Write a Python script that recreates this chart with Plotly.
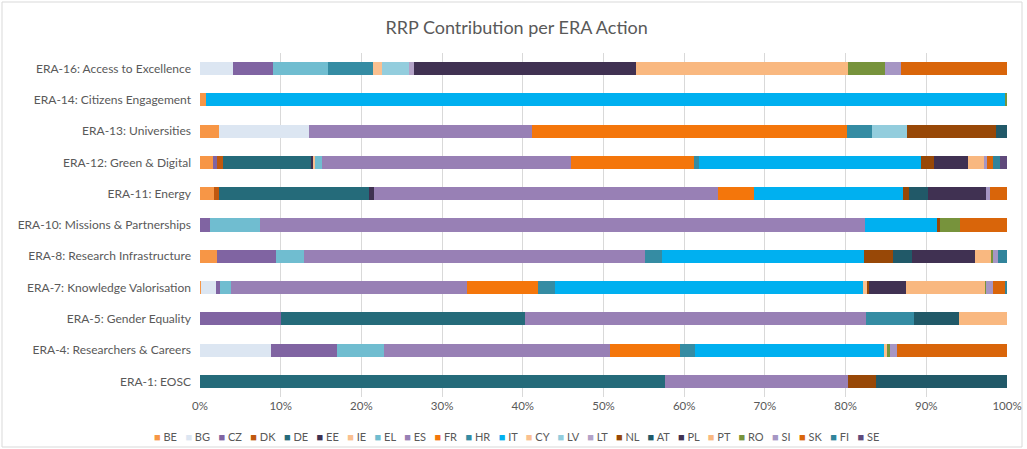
import plotly.graph_objects as go

# ERA actions, bottom to top
actions = [
    "ERA-1: EOSC",
    "ERA-4: Researchers & Careers",
    "ERA-5: Gender Equality",
    "ERA-7: Knowledge Valorisation",
    "ERA-8: Research Infrastructure",
    "ERA-10: Missions & Partnerships",
    "ERA-11: Energy",
    "ERA-12: Green & Digital",
    "ERA-13: Universities",
    "ERA-14: Citizens Engagement",
    "ERA-16: Access to Excellence",
]

# Share (%) of each Member State's RRP contribution, per action (same order as above)
BE = [0, 0, 0, 0.15, 2.1, 0, 1.73, 1.65, 2.4, 0.7, 0]
BG = [0, 8.8, 0, 1.8, 0, 0, 0, 0, 11.1, 0, 4.1]
CZ = [0, 8.2, 10.0, 0.5, 7.3, 1.2, 0, 0.45, 0, 0, 4.9]
DK = [0, 0, 0, 0, 0, 0, 0.67, 0.7, 0, 0, 0]
DE = [57.6, 0, 30.3, 0, 0, 0, 18.55, 10.95, 0, 0, 0]
EE = [0, 0, 0, 0, 0, 0, 0.55, 0.25, 0, 0, 0]
IE = [0, 0, 0, 0, 0, 0, 0, 0.25, 0, 0, 0]
EL = [0, 5.8, 0, 1.4, 3.5, 6.2, 0, 0.9, 0, 0, 6.9]
ES = [22.7, 28.0, 42.2, 29.2, 42.2, 75.0, 42.65, 30.85, 27.6, 0, 0]
FR = [0, 8.7, 0, 8.85, 0, 0, 4.55, 15.25, 39.1, 0, 0]
HR = [0, 1.8, 6.0, 2.1, 2.1, 0, 0, 0.55, 3.1, 0, 5.5]
IT = [0, 23.5, 0, 38.2, 25.1, 8.9, 18.4, 27.5, 0, 99.0, 0]
CY = [0, 0.3, 0, 0.5, 0, 0, 0, 0, 0, 0, 1.1]
LV = [0, 0, 0, 0, 0, 0, 0, 0, 4.3, 0, 3.4]
LT = [0, 0, 0, 0, 0, 0, 0, 0, 0, 0, 0.6]
NL = [3.5, 0, 0, 0.2, 3.6, 0.4, 0.8, 1.65, 11.0, 0, 0]
AT = [16.2, 0, 5.6, 0, 2.3, 0, 2.3, 0, 1.4, 0, 0]
PL = [0, 0, 0, 4.6, 7.8, 0, 7.2, 4.25, 0, 0, 27.5]
PT = [0, 0, 5.9, 9.85, 2.0, 0, 0, 1.95, 0, 0, 26.3]
RO = [0, 0.4, 0, 0.1, 0.3, 2.5, 0, 0, 0, 0.3, 4.6]
SI = [0, 0.9, 0, 0.85, 0.6, 0, 0.5, 0.35, 0, 0, 2.0]
SK = [0, 13.6, 0, 1.5, 0, 5.8, 2.1, 0.8, 0, 0, 13.1]
FI = [0, 0, 0, 0.2, 1.1, 0, 0, 0.8, 0, 0, 0]
SE = [0, 0, 0, 0, 0, 0, 0, 0.9, 0, 0, 0]

countries = ["BE", "BG", "CZ", "DK", "DE", "EE", "IE", "EL", "ES", "FR", "HR", "IT",
             "CY", "LV", "LT", "NL", "AT", "PL", "PT", "RO", "SI", "SK", "FI", "SE"]
shares = [BE, BG, CZ, DK, DE, EE, IE, EL, ES, FR, HR, IT,
          CY, LV, LT, NL, AT, PL, PT, RO, SI, SK, FI, SE]
colors = ["#F79646", "#DCE6F2", "#8064A2", "#C0580E", "#256B7A", "#3F3151", "#FAC090",
          "#70BDD0", "#9880B5", "#F4760B", "#358CA3", "#00B0F0", "#FAC090", "#93CDDD",
          "#B3A2C7", "#984807", "#215968", "#403152", "#F9B880", "#77933C", "#A696C4",
          "#D9650A", "#31849B", "#5F4A7B"]

FONT = "Lato"
TEXT = "#595959"

fig = go.Figure()
for name, vals, col in zip(countries, shares, colors):
    fig.add_trace(go.Bar(
        y=actions, x=vals, name=name, orientation="h",
        marker=dict(color=col, line=dict(width=0)),
    ))

# Legend row drawn as one line of coloured squares and codes
legend_text = "&nbsp;&nbsp;&nbsp;".join(
    f"<span style='color:{c}'>■</span> {n}" for n, c in zip(countries, colors)
)

W, H = 1027, 449
L, R, T, B = 200, 20, 53, 52
pw, ph = W - L - R, H - T - B

def px_to_paper(x, y):
    return (x - L) / pw, (H - B - y) / ph

x0, y1 = px_to_paper(2, 2)
x1, y0 = px_to_paper(1022, 447)
lx, ly = px_to_paper(516, 436)

fig.update_layout(
    width=W, height=H,
    margin=dict(l=L, r=R, t=T, b=B, autoexpand=False),
    barmode="stack",
    bargap=0.58,
    showlegend=False,
    plot_bgcolor="white",
    paper_bgcolor="white",
    font=dict(family=FONT, size=11, color=TEXT),
    title=dict(text="RRP Contribution per ERA Action", x=0.503, xref="container",
               y=1 - 28 / H, yref="container", yanchor="middle", xanchor="center",
               font=dict(family=FONT, size=18, color=TEXT)),
    xaxis=dict(range=[0, 100], tickmode="linear", tick0=0, dtick=10, ticksuffix="%",
               showgrid=True, gridcolor="#D9D9D9", gridwidth=1, zeroline=False,
               tickfont=dict(size=11.5, color=TEXT), fixedrange=True, automargin=False),
    yaxis=dict(categoryorder="array", categoryarray=actions, showgrid=False,
               tickfont=dict(size=12, color=TEXT), ticklabelstandoff=8,
               fixedrange=True, automargin=False),
    shapes=[dict(type="rect", xref="paper", yref="paper", x0=x0, x1=x1, y0=y0, y1=y1,
                 line=dict(color="#D9D9D9", width=1), layer="below")],
    annotations=[dict(text=legend_text, xref="paper", yref="paper", x=lx, y=ly,
                      xanchor="center", yanchor="middle", showarrow=False,
                      font=dict(family=FONT, size=11, color=TEXT))],
)

fig.write_html("out.html")
